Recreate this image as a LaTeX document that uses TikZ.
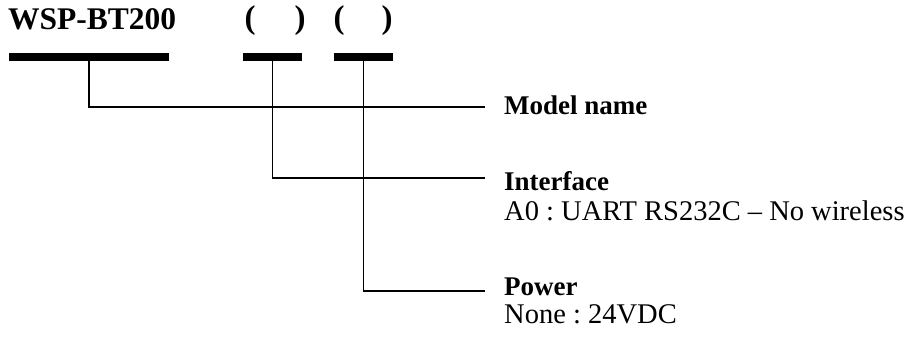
\documentclass[tikz,border=0pt]{standalone}
\usepackage{fontspec}
\setmainfont{Liberation Serif}
\frenchspacing
\begin{document}
\begin{tikzpicture}[x=1pt,y=-1pt,
  bar/.style={fill=black,inner sep=0pt,minimum height=8.5pt},
  lbl/.style={inner sep=0pt,anchor=base west,font=\fontsize{28.5}{32}\selectfont},
  blbl/.style={inner sep=0pt,anchor=base west,font=\fontsize{27}{30}\selectfont\bfseries},
  ttl/.style={inner sep=0pt,anchor=base west,font=\fontsize{31.5}{36}\selectfont\bfseries},
  par/.style={inner sep=0pt,anchor=base,font=\fontsize{33}{36}\selectfont\bfseries},
  conn/.style={draw=black,line width=1.2pt}]
\useasboundingbox (0,0) rectangle (911,337);
\node[ttl] (title) at (8,30) {WSP-BT200};
\node[par] (p1) at (250,29) {(};
\node[par] (p2) at (300,29) {)};
\node[par] (p3) at (339,29) {(};
\node[par] (p4) at (387,29) {)};
\node[bar,minimum width=160pt] (b1) at (89,57) {};
\node[bar,minimum width=59pt] (b2) at (272.5,57) {};
\node[bar,minimum width=59pt] (b3) at (363.5,57) {};
\node[blbl] (model) at (504,114) {Model name};
\node[blbl] (iface) at (504,190) {Interface};
\node[lbl] (ifdesc) at (504,220) {A0 : UART RS232C -- No wireless};
\node[blbl] (power) at (504,295) {Power};
\node[lbl] (pwdesc) at (504,323) {None : 24VDC};
\coordinate (e1) at (485,107);
\coordinate (e2) at (485,178);
\coordinate (e3) at (485,291);
\draw[conn] (b1.south) |- (e1);
\draw[conn] (b2.south) |- (e2);
\draw[conn] (b3.south) |- (e3);
\end{tikzpicture}
\end{document}
